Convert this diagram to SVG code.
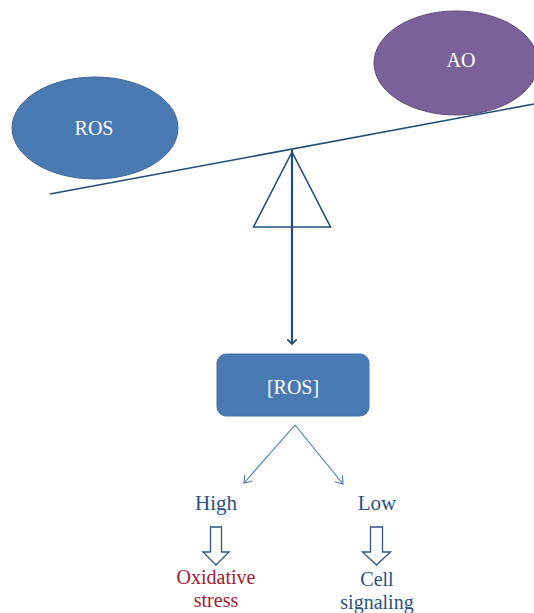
<svg xmlns="http://www.w3.org/2000/svg" width="534" height="613" viewBox="0 0 534 613">
<style>
text{font-family:"Liberation Serif","Times New Roman",serif;text-anchor:middle}
.w{fill:#ffffff;font-size:20px}
.b{fill:#2b5283;font-size:21px}
.r{fill:#a3202f;font-size:20px}
.s{fill:#2b5283;font-size:20px}
.beam{stroke:#1f4e79;stroke-width:1.6;fill:none}
.thin{stroke:#4a7ab4;stroke-width:1.1;fill:none}
.block{fill:#ffffff;stroke:#2e5686;stroke-width:1.3}
</style>
<defs>
<marker id="ah" markerWidth="10" markerHeight="10" refX="5" refY="5" orient="auto" markerUnits="userSpaceOnUse" viewBox="0 0 10 10">
<path d="M0,0 L5,5 L0,10" fill="none" stroke="#1f4e79" stroke-width="1.8"/>
</marker>
<marker id="ah2" markerWidth="12" markerHeight="12" refX="9" refY="6" orient="auto" markerUnits="userSpaceOnUse" viewBox="0 0 12 12">
<path d="M2,1 L9,6 L2,11" fill="none" stroke="#4a7ab4" stroke-width="1.1"/>
</marker>
</defs>
<g id="ros-ellipse">
<ellipse cx="95" cy="128" rx="83" ry="51" fill="#4a7ab4" stroke="#3d6596" stroke-width="1"/>
<text class="w" x="94" y="135">ROS</text>
</g>
<g id="ao-ellipse">
<ellipse cx="456" cy="63" rx="82" ry="52" fill="#7a6199" stroke="#5f4b7e" stroke-width="1"/>
<text class="w" x="461" y="67">AO</text>
</g>
<g id="balance">
<line class="beam" x1="50" y1="194" x2="534" y2="104"/>
<polygon points="292,152 253.5,227 330.5,227" fill="none" stroke="#1f4e79" stroke-width="1.6"/>
</g>
<g id="ros-box">
<rect x="217" y="354" width="152" height="62" rx="9" fill="#4a7ab4" stroke="#4572a8" stroke-width="1"/>
<text class="w" x="293" y="394">[ROS]</text>
</g>
<g id="connectors">
<line x1="292" y1="150" x2="292" y2="344" stroke="#1f4e79" stroke-width="2.2" marker-end="url(#ah)"/>
<line class="thin" x1="295" y1="425" x2="244" y2="483" marker-end="url(#ah2)"/>
<line class="thin" x1="295" y1="425" x2="343" y2="484" marker-end="url(#ah2)"/>
</g>
<g id="high">
<text class="b" x="216" y="510">High</text>
<path class="block" d="M210.5,527 H221.5 V552 H229 L216,565 L203,552 H210.5 Z"/>
</g>
<g id="oxidative-stress">
<text class="r" x="216" y="584">Oxidative</text>
<text class="r" x="216" y="607">stress</text>
</g>
<g id="low">
<text class="b" x="377" y="510">Low</text>
<path class="block" d="M370.5,527 H382.5 V552 H390.5 L376.5,565 L362.5,552 H370.5 Z"/>
</g>
<g id="cell-signaling">
<text class="s" x="377" y="586">Cell</text>
<text class="s" x="377" y="609">signaling</text>
</g>
</svg>
